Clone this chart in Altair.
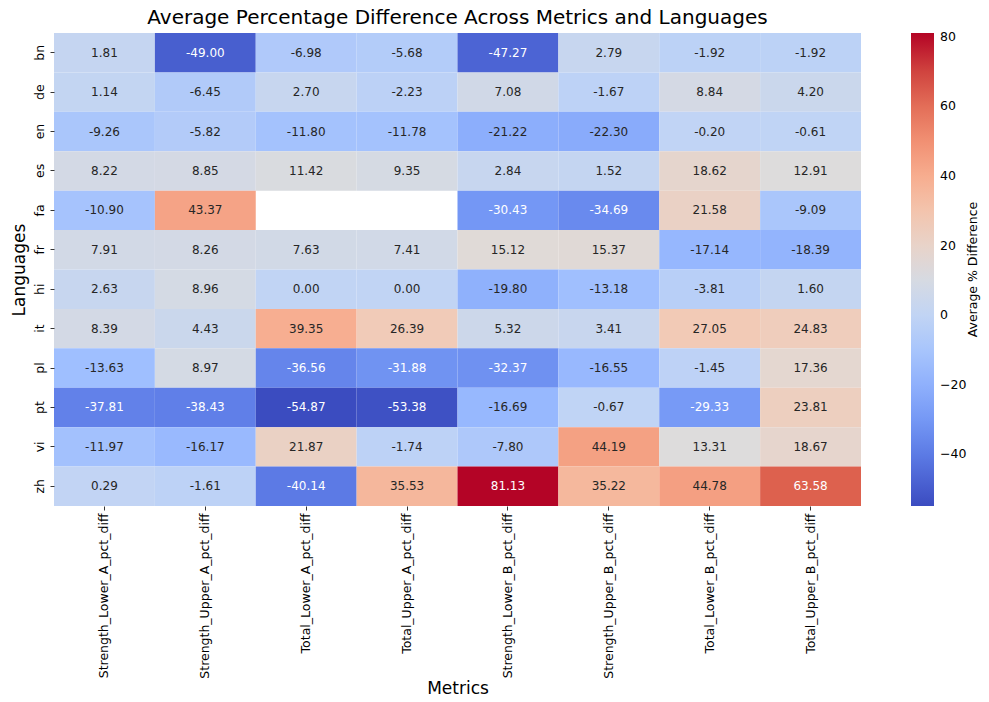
import altair as alt
import pandas as pd

languages = ["bn", "de", "en", "es", "fa", "fr", "hi", "it", "pl", "pt", "vi", "zh"]
metrics = [
    "Strength_Lower_A_pct_diff",
    "Strength_Upper_A_pct_diff",
    "Total_Lower_A_pct_diff",
    "Total_Upper_A_pct_diff",
    "Strength_Lower_B_pct_diff",
    "Strength_Upper_B_pct_diff",
    "Total_Lower_B_pct_diff",
    "Total_Upper_B_pct_diff",
]

bn = [1.81, -49.00, -6.98, -5.68, -47.27, 2.79, -1.92, -1.92]
de = [1.14, -6.45, 2.70, -2.23, 7.08, -1.67, 8.84, 4.20]
en = [-9.26, -5.82, -11.80, -11.78, -21.22, -22.30, -0.20, -0.61]
es = [8.22, 8.85, 11.42, 9.35, 2.84, 1.52, 18.62, 12.91]
fa = [-10.90, 43.37, None, None, -30.43, -34.69, 21.58, -9.09]
fr = [7.91, 8.26, 7.63, 7.41, 15.12, 15.37, -17.14, -18.39]
hi = [2.63, 8.96, 0.00, 0.00, -19.80, -13.18, -3.81, 1.60]
it = [8.39, 4.43, 39.35, 26.39, 5.32, 3.41, 27.05, 24.83]
pl = [-13.63, 8.97, -36.56, -31.88, -32.37, -16.55, -1.45, 17.36]
pt = [-37.81, -38.43, -54.87, -53.38, -16.69, -0.67, -29.33, 23.81]
vi = [-11.97, -16.17, 21.87, -1.74, -7.80, 44.19, 13.31, 18.67]
zh = [0.29, -1.61, -40.14, 35.53, 81.13, 35.22, 44.78, 63.58]

colorbar_ticks = [-40, -20, 0, 20, 40, 60, 80]
colorbar_title = ["Average % Difference"]

rows = {"bn": bn, "de": de, "en": en, "es": es, "fa": fa, "fr": fr,
        "hi": hi, "it": it, "pl": pl, "pt": pt, "vi": vi, "zh": zh}

records = []
for lang in languages:
    for m, v in zip(metrics, rows[lang]):
        if v is not None:
            records.append({"Languages": lang, "Metrics": m, "value": v,
                            "label": f"{v:.2f}"})
df = pd.DataFrame(records)

# matplotlib "coolwarm" sampled at 11 evenly spaced points
coolwarm = ["#3b4cc0", "#5977e3", "#7b9ff9", "#9ebeff", "#c0d4f5", "#dddcdc",
            "#f2cbb7", "#f7ac8e", "#ee8468", "#d65244", "#b40426"]
vmin, vmax = float(df["value"].min()), float(df["value"].max())
n = len(coolwarm)
domain = [vmin + (vmax - vmin) * i / (n - 1) for i in range(n)]

FONT = "DejaVu Sans"
W, H = 807, 473

base = alt.Chart(df).encode(
    x=alt.X("Metrics:N", sort=metrics, title="Metrics",
            scale=alt.Scale(paddingInner=0, paddingOuter=0),
            axis=alt.Axis(labelAngle=270, labelAlign="right", labelBaseline="middle",
                          labelPadding=3, titlePadding=2)),
    y=alt.Y("Languages:N", sort=languages, title="Languages",
            scale=alt.Scale(paddingInner=0, paddingOuter=0),
            axis=alt.Axis(labelAngle=270, labelAlign="center", labelBaseline="bottom",
                          labelPadding=4, titlePadding=5)),
)

rect = base.mark_rect().encode(
    color=alt.Color(
        "value:Q",
        scale=alt.Scale(domain=domain, range=coolwarm, interpolate="rgb"),
        legend=alt.Legend(
            type="gradient",
            title=None,
            orient="right",
            offset=50,
            padding=0,
            direction="vertical",
            gradientLength=H,
            gradientThickness=23,
            gradientStrokeWidth=0,
            values=colorbar_ticks,
            format="d",
            labelExpr="replace(datum.label, '-', '\u2212')",
            labelFont=FONT,
            labelFontSize=12.5,
            labelColor="black",
            labelOffset=6,
        ),
    ),
)

text = base.mark_text(font=FONT, fontSize=12).encode(
    text="label:N",
    color=alt.condition("datum.value < -25 || datum.value > 55",
                        alt.value("white"), alt.value("#262626")),
)

cbar_title = alt.Chart(pd.DataFrame({"t": colorbar_title})).mark_text(
    font=FONT, fontSize=12.5, angle=270, align="center", baseline="middle", color="black"
).encode(text="t:N", x=alt.value(W + 112), y=alt.value(H / 2))

chart = (
    alt.layer(rect, text, cbar_title)
    .properties(
        width=W,
        height=H,
        title=alt.Title("Average Percentage Difference Across Metrics and Languages",
                        font=FONT, fontSize=20, fontWeight="normal", color="black",
                        offset=5, anchor="middle"),
        autosize=alt.AutoSizeParams(type="none"),
        padding={"left": 46, "top": 25, "right": 120, "bottom": 188},
    )
    .configure_view(stroke=None)
    .configure_axis(
        labelFont=FONT, labelFontSize=12.5, labelColor="black",
        titleFont=FONT, titleFontSize=17, titleFontWeight="normal", titleColor="black",
        tickColor="black", tickSize=4, tickWidth=0.8, domain=False, grid=False,
    )
)

chart.save("out.html", embed_options={"renderer": "svg", "actions": False})
